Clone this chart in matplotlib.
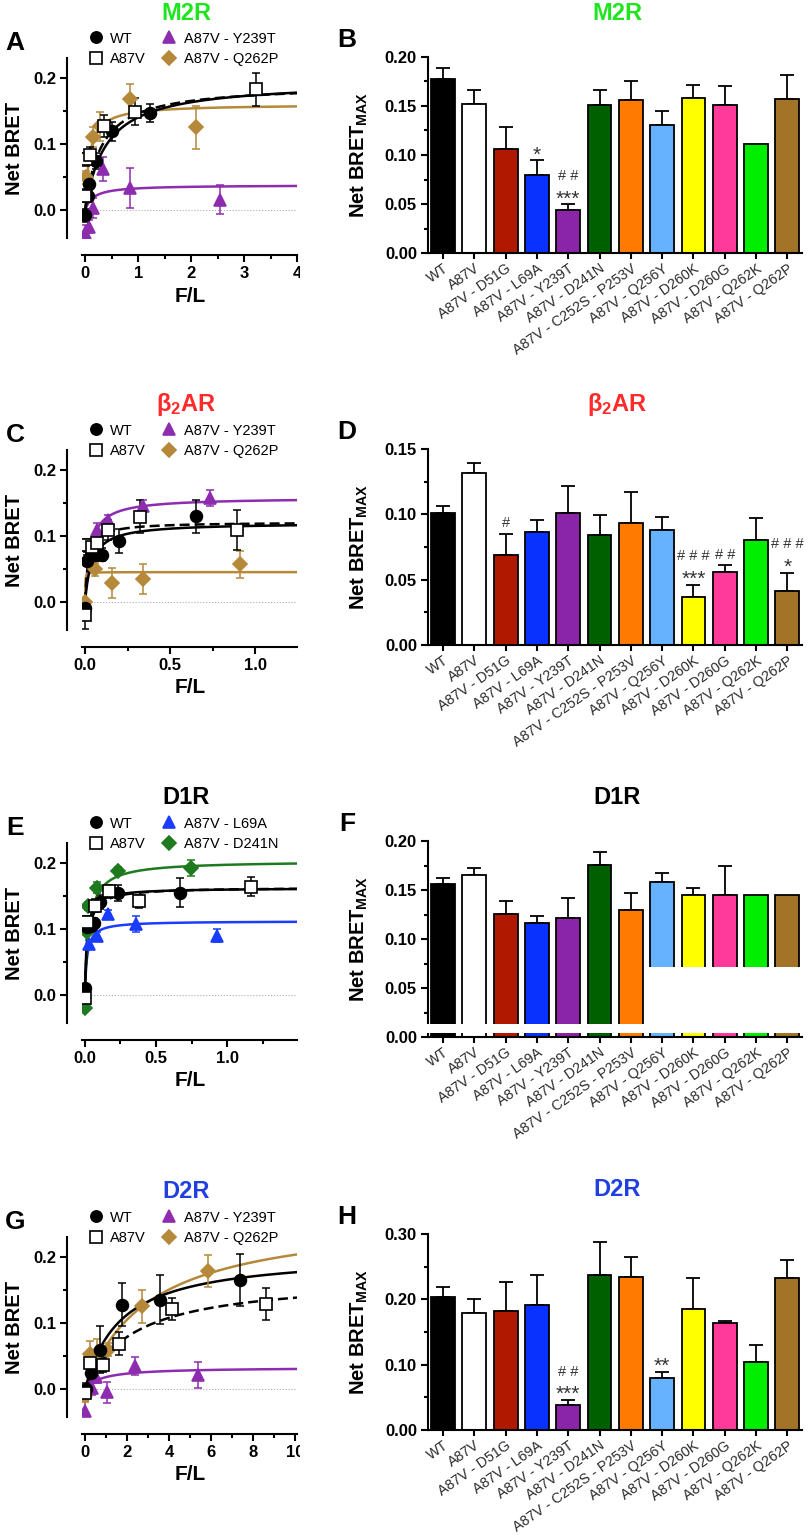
import numpy as np
import matplotlib
matplotlib.use("Agg")
import matplotlib.pyplot as plt
from matplotlib.lines import Line2D
from matplotlib.patches import Rectangle
from matplotlib.ticker import MultipleLocator, FormatStrFormatter
from matplotlib.transforms import Bbox, TransformedBbox

plt.rcParams.update({
    "font.family": ["Liberation Sans", "DejaVu Sans"],
    "mathtext.fontset": "custom",
    "mathtext.rm": "Liberation Sans",
    "mathtext.bf": "Liberation Sans:bold",
    "mathtext.it": "Liberation Sans:italic",
    "axes.linewidth": 1.5,
})

W, H = 812, 1540
PX = 0.72  # points per pixel at dpi 100

# ---------------- saturation data (F/L vs net BRET, mean +/- sem) ----------------
# panel A  M2R
A_WT_x = [0.0, 0.044, 0.08, 0.21, 0.50, 1.23]
A_WT_y = [-0.0075, 0.0215, 0.039, 0.074, 0.119, 0.147]
A_WT_e = [0.010, 0.008, 0.008, 0.012, 0.015, 0.013]
A_A87V_x = [0.0, 0.02, 0.095, 0.35, 0.95, 3.22]
A_A87V_y = [0.022, 0.077, 0.083, 0.127, 0.149, 0.183]
A_A87V_e = [0.010, 0.010, 0.012, 0.017, 0.020, 0.025]
A_Y239T_x = [0.0, 0.08, 0.15, 0.33, 0.85, 2.54]
A_Y239T_y = [-0.034, -0.025, 0.003, 0.062, 0.034, 0.016]
A_Y239T_e = [0.012, 0.010, 0.015, 0.018, 0.030, 0.022]
A_Q262P_x = [0.02, 0.14, 0.28, 0.84, 2.10]
A_Q262P_y = [0.050, 0.111, 0.127, 0.168, 0.125]
A_Q262P_e = [0.010, 0.015, 0.022, 0.023, 0.032]
A_FIT = {"WT": (0.195, 0.39), "A87V": (0.190, 0.30), "Y239T": (0.038, 0.15), "Q262P": (0.160, 0.08)}

# panel C  beta2AR
C_WT_x = [0.0, 0.014, 0.033, 0.06, 0.10, 0.20, 0.65]
C_WT_y = [-0.009, 0.063, 0.072, 0.072, 0.072, 0.093, 0.130]
C_WT_e = [0.010, 0.008, 0.010, 0.010, 0.010, 0.018, 0.025]
C_A87V_x = [0.0, 0.014, 0.04, 0.07, 0.137, 0.32, 0.89]
C_A87V_y = [-0.020, 0.086, 0.083, 0.090, 0.109, 0.129, 0.109]
C_A87V_e = [0.020, 0.010, 0.012, 0.015, 0.015, 0.025, 0.030]
C_Y239T_x = [0.07, 0.137, 0.34, 0.735]
C_Y239T_y = [0.109, 0.124, 0.145, 0.158]
C_Y239T_e = [0.010, 0.008, 0.010, 0.012]
C_Q262P_x = [0.0, 0.06, 0.16, 0.34, 0.91]
C_Q262P_y = [0.0, 0.050, 0.029, 0.035, 0.057]
C_Q262P_e = [0.004, 0.010, 0.022, 0.023, 0.020]
C_FIT = {"WT": (0.120, 0.04), "A87V": (0.121, 0.02), "Y239T": (0.158, 0.03), "Q262P": (0.0455, 0.001)}

# panel E  D1R
E_WT_x = [0.0, 0.017, 0.04, 0.064, 0.107, 0.23, 0.667]
E_WT_y = [0.011, 0.1025, 0.105, 0.109, 0.141, 0.154, 0.155]
E_WT_e = [0.005, 0.006, 0.006, 0.008, 0.010, 0.012, 0.022]
E_A87V_x = [0.0, 0.017, 0.07, 0.167, 0.38, 1.17]
E_A87V_y = [-0.004, 0.111, 0.135, 0.157, 0.142, 0.164]
E_A87V_e = [0.008, 0.008, 0.010, 0.010, 0.010, 0.014]
E_L69A_x = [0.0, 0.03, 0.083, 0.16, 0.36, 0.93]
E_L69A_y = [-0.0125, 0.0775, 0.090, 0.1225, 0.1075, 0.090]
E_L69A_e = [0.004, 0.006, 0.006, 0.006, 0.012, 0.010]
E_D241N_x = [0.0, 0.017, 0.024, 0.083, 0.23, 0.745]
E_D241N_y = [-0.020, 0.096, 0.135, 0.1625, 0.1875, 0.1925]
E_D241N_e = [0.004, 0.005, 0.006, 0.008, 0.006, 0.012]
E_FIT = {"WT": (0.162, 0.015), "A87V": (0.163, 0.02), "L69A": (0.112, 0.015), "D241N": (0.203, 0.03)}

# panel G  D2R
G_WT_x = [0.05, 0.30, 0.70, 1.75, 3.55, 7.40]
G_WT_y = [0.0, 0.025, 0.060, 0.128, 0.135, 0.165]
G_WT_e = [0.010, 0.015, 0.035, 0.033, 0.037, 0.040]
G_A87V_x = [0.0, 0.24, 0.85, 1.60, 4.16, 8.60]
G_A87V_y = [-0.005, 0.040, 0.0365, 0.069, 0.1215, 0.129]
G_A87V_e = [0.010, 0.015, 0.010, 0.017, 0.017, 0.024]
G_Y239T_x = [0.0, 0.32, 0.53, 1.04, 2.37, 5.36]
G_Y239T_y = [-0.0335, 0.0015, 0.019, -0.0045, 0.035, 0.0215]
G_Y239T_e = [0.016, 0.010, 0.010, 0.016, 0.014, 0.020]
G_Q262P_x = [0.0, 0.24, 0.56, 1.07, 2.72, 5.87]
G_Q262P_y = [-0.011, 0.0525, 0.054, 0.060, 0.125, 0.179]
G_Q262P_e = [0.008, 0.020, 0.022, 0.010, 0.025, 0.024]
G_FIT = {"WT": (0.206, 1.66), "A87V": (0.170, 2.3), "Y239T": (0.033, 0.8), "Q262P": (0.265, 3.04)}

# ---------------- BRETmax bar data ----------------
MUTANTS = ["WT", "A87V", "A87V - D51G", "A87V - L69A", "A87V - Y239T", "A87V - D241N",
           "A87V - C252S - P253V", "A87V - Q256Y", "A87V - D260K", "A87V - D260G",
           "A87V - Q262K", "A87V - Q262P"]
M2R_bmax = [0.178, 0.152, 0.106, 0.080, 0.044, 0.151, 0.156, 0.131, 0.158, 0.151, 0.111, 0.157]
M2R_sem = [0.011, 0.014, 0.023, 0.0144, 0.0055, 0.015, 0.020, 0.014, 0.0137, 0.019, 0.0, 0.025]
M2R_sig = {3: ["*"], 4: ["***", "# #"]}
B2AR_bmax = [0.1007, 0.1314, 0.0686, 0.0862, 0.1009, 0.0842, 0.0933, 0.0882, 0.0369, 0.0559, 0.0801, 0.0414]
B2AR_sem = [0.006, 0.0076, 0.0165, 0.0094, 0.0209, 0.0155, 0.0239, 0.0099, 0.0092, 0.0051, 0.017, 0.0138]
B2AR_sig = {2: ["#"], 8: ["***", "# # #"], 9: ["# #"], 11: ["*", "# # #"]}
D1R_bmax = [0.1565, 0.1656, 0.1259, 0.1163, 0.1211, 0.1752, 0.1299, 0.1585, 0.1446, 0.1446, 0.1446, 0.1446]
D1R_sem = [0.006, 0.0072, 0.0125, 0.0072, 0.0207, 0.014, 0.0167, 0.0092, 0.0078, 0.0302, 0.0, 0.0]
D1R_sig = {}
D2R_bmax = [0.2039, 0.1794, 0.1829, 0.1916, 0.0378, 0.2376, 0.234, 0.0802, 0.185, 0.164, 0.1037, 0.233]
D2R_sem = [0.0143, 0.0204, 0.044, 0.0455, 0.0077, 0.05, 0.0307, 0.0082, 0.048, 0.003, 0.0266, 0.0276]
D2R_sig = {4: ["***", "# #"], 7: ["**"]}

BAR_COLORS = ["#000000", "#ffffff", "#b01800", "#0a32ff", "#8a24a8", "#006000",
              "#ff7a00", "#66b2ff", "#ffff00", "#ff3a9a", "#00ee00", "#a37427"]

PURPLE, BROWN, BLUE, GREEN = "#8e2cb0", "#b5883a", "#1a3cff", "#1f7a1f"
STYLE = {
    "WT": dict(color="black", marker="o", mfc="black", ms=8.5, label="WT"),
    "A87V": dict(color="black", marker="s", mfc="white", ms=8.5, label="A87V"),
    "Y239T": dict(color=PURPLE, marker="^", mfc=PURPLE, ms=8.5, label="A87V - Y239T"),
    "Q262P": dict(color=BROWN, marker="D", mfc=BROWN, ms=7, label="A87V - Q262P"),
    "L69A": dict(color=BLUE, marker="^", mfc=BLUE, ms=8.5, label="A87V - L69A"),
    "D241N": dict(color=GREEN, marker="D", mfc=GREEN, ms=7, label="A87V - D241N"),
}

fig = plt.figure(figsize=(W / 100, H / 100), dpi=100)
fig.patch.set_facecolor("white")


def add_ax(l, t, r, b):
    return fig.add_axes([l / W, 1 - b / H, (r - l) / W, (b - t) / H])


def ftext(x, y, s, **kw):
    return fig.text(x / W, 1 - y / H, s, **kw)


def scatter_panel(top, series, fits, xlim, xmaj, xmin, xfmt, letter, title, tcolor):
    ax = add_ax(82, top, 297, top + 180)
    ax.set_xlim(*xlim)
    ax.set_ylim(-0.042, 0.23)
    for sp in ["top", "right"]:
        ax.spines[sp].set_visible(False)
    ax.spines["left"].set_position(("outward", 15 * PX))
    ax.spines["bottom"].set_position(("outward", 17 * PX))
    ax.axhline(0, color="#b0b0b0", lw=0.8, ls=":", zorder=0)
    xx = np.linspace(0, xlim[1], 400)
    handles = []
    for key, (x, y, e) in series.items():
        st = STYLE[key]
        bmax, kd = fits[key]
        ls = (0, (4, 2)) if key == "A87V" else "-"
        z = 3 if key in ("WT", "A87V") else 2
        ax.plot(xx, bmax * xx / (kd + xx), color=st["color"], lw=1.8, ls=ls, zorder=z)
        ax.errorbar(x, y, yerr=e, fmt="none", ecolor=st["color"], elinewidth=1.1,
                    capsize=3, capthick=1.1, zorder=z + 1)
        ax.plot(x, y, ls="none", marker=st["marker"], ms=st["ms"], mfc=st["mfc"],
                mec=st["color"], mew=1.2, zorder=z + 2)
        handles.append(Line2D([], [], ls="none", marker=st["marker"], ms=st["ms"] * 0.95,
                              mfc=st["mfc"], mec=st["color"], mew=1.2, label=st["label"]))
    ax.legend(handles, [h.get_label() for h in handles],
              ncol=2, loc="lower left", bbox_to_anchor=(0.03, 0.955), frameon=False,
              fontsize=10.5, borderpad=0, handlelength=1.0, handletextpad=0.5,
              columnspacing=1.1, labelspacing=0.45, borderaxespad=0)
    ax.xaxis.set_major_locator(MultipleLocator(xmaj))
    ax.xaxis.set_minor_locator(MultipleLocator(xmin))
    ax.xaxis.set_major_formatter(FormatStrFormatter(xfmt))
    ax.yaxis.set_major_locator(MultipleLocator(0.1))
    ax.yaxis.set_minor_locator(MultipleLocator(0.05))
    ax.yaxis.set_major_formatter(FormatStrFormatter("%.1f"))
    ax.tick_params(which="major", length=5, width=1.5, labelsize=12, pad=3)
    ax.tick_params(which="minor", length=3, width=1.5)
    for lab in ax.get_xticklabels() + ax.get_yticklabels():
        lab.set_fontweight("bold")
    # the composite is cropped at x = 300 px
    clip = TransformedBbox(Bbox([[0, 0], [300 / W, 1]]), fig.transFigure)
    for lab in ax.get_xticklabels():
        lab.set_clip_box(clip)
        lab.set_clip_on(True)
    ftext(190, top + 180 + 17 + 41, "F/L", ha="center", va="center",
          fontsize=15, fontweight="bold")
    ftext(15, top + 90, "Net BRET", ha="center", va="center", rotation=90,
          fontsize=14.5, fontweight="bold")
    ftext(15, top - 15, letter, ha="center", va="center", fontsize=19, fontweight="bold")
    ftext(186, top - 45, title, ha="center", va="center", fontsize=17,
          fontweight="bold", color=tcolor)
    return ax


def bar_panel(top, vals, sems, sig, ymax, ymaj, ymin, yfmt, letter, title, tcolor):
    ax = add_ax(428, top, 802, top + 196)
    x = np.arange(len(MUTANTS))
    ax.bar(x, vals, width=0.76, color=BAR_COLORS, edgecolor="black", linewidth=1.3, zorder=2)
    for i, (v, s) in enumerate(zip(vals, sems)):
        if s > 0:
            ax.errorbar(i, v, yerr=[[0], [s]], fmt="none", ecolor="black",
                        elinewidth=1.3, capsize=5, capthick=1.3, zorder=1)
    for i, labs in sig.items():
        ytop = vals[i] + sems[i]
        for k, lab in enumerate(labs):
            star = "*" in lab
            centre = 8.6 + 13 * k
            base = centre - (8.5 if star else 3.8)
            ax.annotate(lab, (i, ytop), xytext=(0, base), textcoords="offset points",
                        ha="center", va="baseline", fontsize=15 if star else 10.5,
                        color="#333333", zorder=4)
    ax.set_xlim(-0.48, 11.47)
    ax.set_ylim(0, ymax)
    for sp in ["top", "right"]:
        ax.spines[sp].set_visible(False)
    ax.set_xticks(x)
    ax.set_xticklabels(MUTANTS, rotation=35, ha="right", rotation_mode="anchor",
                       fontsize=10.3, color="#2a2a2a")
    ax.yaxis.set_major_locator(MultipleLocator(ymaj))
    ax.yaxis.set_minor_locator(MultipleLocator(ymin))
    ax.yaxis.set_major_formatter(FormatStrFormatter(yfmt))
    ax.tick_params(axis="x", length=4, width=1.5, pad=2)
    ax.tick_params(axis="y", which="major", length=5, width=1.5, labelsize=12, pad=3)
    ax.tick_params(axis="y", which="minor", length=3, width=1.5)
    for lab in ax.get_yticklabels():
        lab.set_fontweight("bold")
    ftext(359, top + 98, r"Net BRET$_{\mathbf{MAX}}$", ha="center", va="center",
          rotation=90, fontsize=14.5, fontweight="bold")
    ftext(347, top - 17, letter, ha="center", va="center", fontsize=19, fontweight="bold")
    ftext(617, top - 44, title, ha="center", va="center", fontsize=17,
          fontweight="bold", color=tcolor)
    return ax


scatter_panel(58, {"WT": (A_WT_x, A_WT_y, A_WT_e), "A87V": (A_A87V_x, A_A87V_y, A_A87V_e),
                   "Y239T": (A_Y239T_x, A_Y239T_y, A_Y239T_e),
                   "Q262P": (A_Q262P_x, A_Q262P_y, A_Q262P_e)},
              A_FIT, (-0.06, 4.0), 1, 0.5, "%d", "A", "M2R", "#1ee61e")
scatter_panel(450, {"WT": (C_WT_x, C_WT_y, C_WT_e), "A87V": (C_A87V_x, C_A87V_y, C_A87V_e),
                    "Y239T": (C_Y239T_x, C_Y239T_y, C_Y239T_e),
                    "Q262P": (C_Q262P_x, C_Q262P_y, C_Q262P_e)},
              C_FIT, (-0.018, 1.245), 0.5, 0.25, "%.1f", "C", r"β$_{\mathbf{2}}$AR", "#ff2a2a")
scatter_panel(843, {"WT": (E_WT_x, E_WT_y, E_WT_e), "A87V": (E_A87V_x, E_A87V_y, E_A87V_e),
                    "L69A": (E_L69A_x, E_L69A_y, E_L69A_e),
                    "D241N": (E_D241N_x, E_D241N_y, E_D241N_e)},
              E_FIT, (-0.02, 1.49), 0.5, 0.25, "%.1f", "E", "D1R", "black")
scatter_panel(1237, {"WT": (G_WT_x, G_WT_y, G_WT_e), "A87V": (G_A87V_x, G_A87V_y, G_A87V_e),
                     "Y239T": (G_Y239T_x, G_Y239T_y, G_Y239T_e),
                     "Q262P": (G_Q262P_x, G_Q262P_y, G_Q262P_e)},
              G_FIT, (-0.15, 10.1), 2, 1, "%d", "G", "D2R", "#1f3fe0")

bar_panel(57, M2R_bmax, M2R_sem, M2R_sig, 0.20, 0.05, 0.025, "%.2f", "B", "M2R", "#1ee61e")
bar_panel(449, B2AR_bmax, B2AR_sem, B2AR_sig, 0.15, 0.05, 0.025, "%.2f", "D",
          r"β$_{\mathbf{2}}$AR", "#ff2a2a")
axF = bar_panel(841, D1R_bmax, D1R_sem, D1R_sig, 0.20, 0.05, 0.025, "%.2f", "F", "D1R", "black")
bar_panel(1234, D2R_bmax, D2R_sem, D2R_sig, 0.30, 0.10, 0.05, "%.2f", "H", "D2R", "#1f3fe0")

# panel F in the source has a white block pasted over the lower part of the bars
axF.add_patch(Rectangle((-0.65, 0.004), 12.5, 0.0096, facecolor="white", edgecolor="none",
                        zorder=5, clip_on=False))
axF.add_patch(Rectangle((6.57, 0.004), 6.0, 0.0674, facecolor="white", edgecolor="none",
                        zorder=5, clip_on=False))

fig.savefig("out.png", dpi=100, facecolor="white")
